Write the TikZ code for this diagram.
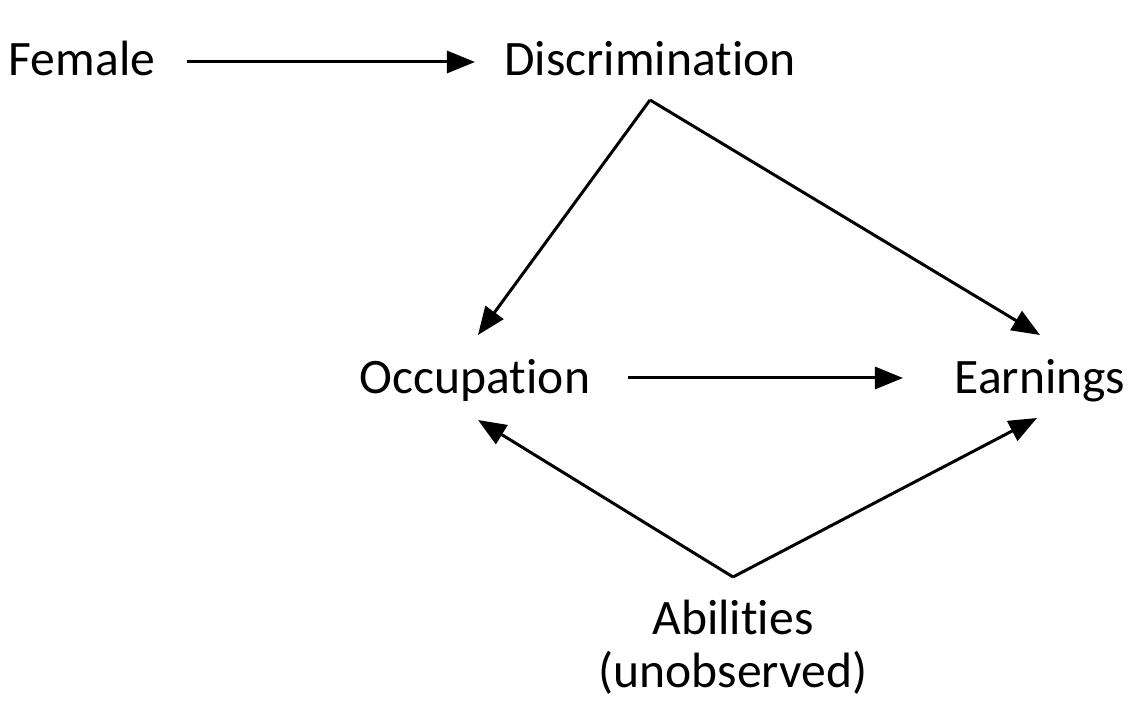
\documentclass[tikz,border=0pt]{standalone}
\usepackage{fontspec}
\setmainfont{Carlito}[Ligatures={NoCommon}]
\usetikzlibrary{arrows.meta}
\tikzset{
  lbl/.style={anchor=base, inner sep=0pt, font=\fontsize{14.1pt}{15.1pt}\selectfont, align=center},
  conn/.style={line width=0.85pt, -{Triangle[length=0.28cm, width=0.22cm]}}
}
\begin{document}
\begin{tikzpicture}[x=0.01cm, y=-0.01cm]
\useasboundingbox (0,0) rectangle (1142,725);
\node[lbl] (fem) at (82,76) {Female};
\node[lbl] (disc) at (650,76) {Discrimination};
\node[lbl] (occ) at (475,394) {Occupation};
\node[lbl] (earn) at (1040,394) {Earnings};
\node[lbl] (abil) at (733,688) {Abilities\\(unobserved)};
\draw[conn] ([shift={(105,-14)}]fem.base) -- ([shift={(-175,-14)}]disc.base);
\draw[conn] ([shift={(0,24)}]disc.base) -- ([shift={(3,-59)}]occ.base);
\draw[conn] ([shift={(0,24)}]disc.base) -- ([shift={(0,-59)}]earn.base);
\draw[conn] ([shift={(153,-16)}]occ.base) -- ([shift={(-137,-16)}]earn.base);
\draw[conn] ([shift={(0,-111)}]abil.base) -- ([shift={(3,26)}]occ.base);
\draw[conn] ([shift={(0,-111)}]abil.base) -- ([shift={(-3,24)}]earn.base);
\end{tikzpicture}
\end{document}
